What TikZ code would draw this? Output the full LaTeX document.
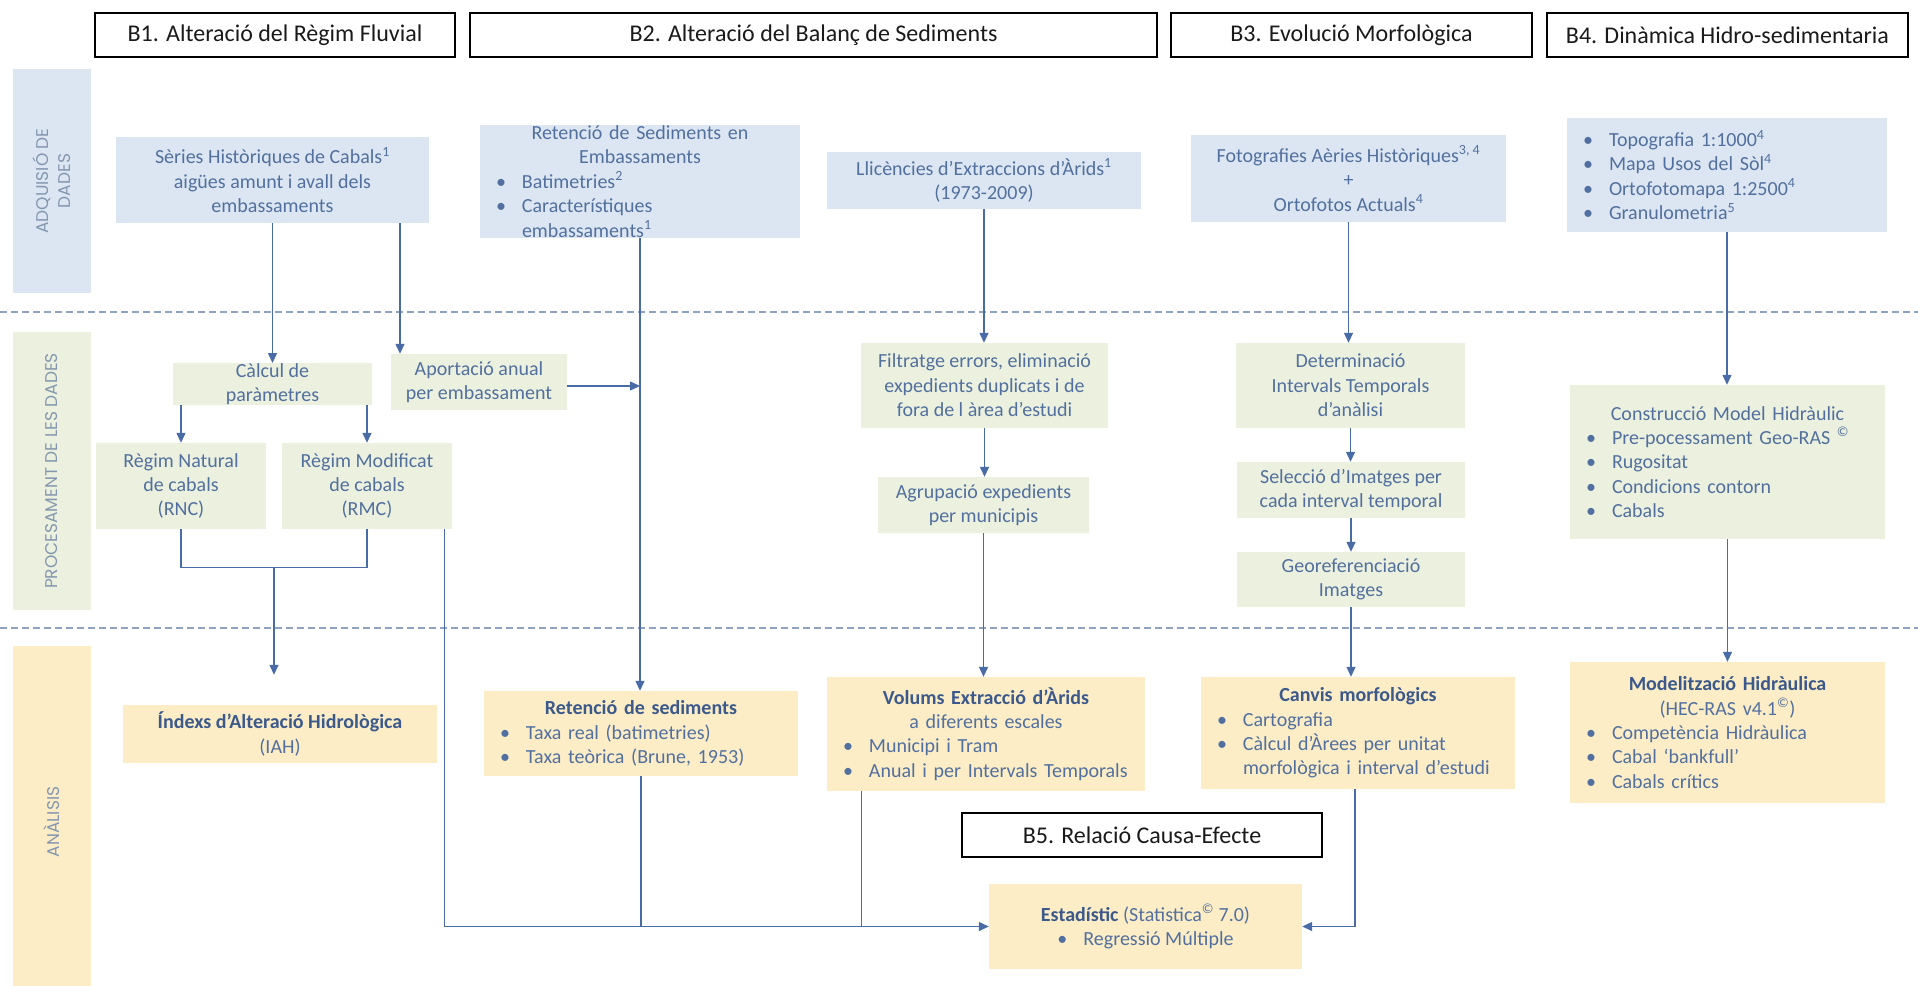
\documentclass[tikz,border=0pt]{standalone}
\usepackage{fontspec}
\setmainfont{Carlito}
\newfontfamily\barfont{Poppins}
\usetikzlibrary{arrows.meta,calc}

\definecolor{acqfill}{HTML}{DCE6F2}
\definecolor{procfill}{HTML}{EBF1DE}
\definecolor{anafill}{HTML}{FCEDC6}
\definecolor{boxtext}{HTML}{52709F}
\definecolor{boldtext}{HTML}{3B598B}
\definecolor{linkblue}{HTML}{4A6CA6}
\definecolor{dashgray}{HTML}{8FA3BF}
\definecolor{bartext}{HTML}{8497B0}
\definecolor{hdrtext}{HTML}{1A1A1A}

% centred line, bullet line, continuation line, superscript, bold title
\newcommand\cl[1]{\makebox[\linewidth][c]{#1}}
\newcommand\bl[1]{\makebox[26pt][l]{\textbullet}#1}
\newcommand\ct[1]{\hspace*{26pt}#1}
\newcommand\sups[1]{\textsuperscript{#1}}
\newcommand\bt[1]{\textcolor{boldtext}{\textbf{#1}}}

\begin{document}
\begin{tikzpicture}[x=1pt,y=-1pt,
  hdr/.style={draw=black, line width=1.3pt, fill=white, inner sep=0pt,
    minimum height=44, font=\fontsize{24}{28}\selectfont, text=hdrtext},
  bar/.style={inner sep=0pt, rotate=90, align=center,
    font=\barfont\fontsize{17}{22}\selectfont, text=bartext},
  box/.style={inner sep=0pt, align=center,
    font=\fontsize{20}{24.4}\selectfont, text=boxtext},
  acq/.style={box, fill=acqfill},
  proc/.style={box, fill=procfill},
  ana/.style={box, fill=anafill},
  list/.style={align=left, inner xsep=16pt, text width=#1},
  sz/.style 2 args={minimum width=#1, minimum height=#2},
  link/.style={draw=linkblue, line width=1.3pt},
  arr/.style={link, -{Triangle[length=10pt,width=9pt]}},
  dashline/.style={draw=dashgray, line width=1.2pt, dash pattern=on 7pt off 4pt}]

\useasboundingbox (0,0) rectangle (1918,985);
\fill[white] (0,0) rectangle (1918,985);

% stage bands on the left
\node[bar, fill=acqfill, sz={224}{78}] (barAdq) at (52,181) {ADQUISIÓ DE\\DADES};
\node[bar, fill=procfill, sz={278}{78}] (barProc) at (52,471) {PROCESAMENT DE LES DADES};
\node[bar, fill=anafill, sz={352}{78}] (barAna) at (52,822) {ANÀLISIS};

% stage separators
\draw[dashline] (0,312) -- (1918,312);
\draw[dashline] (0,628) -- (1918,628);

% block headers
\node[hdr, minimum width=360] (hB1) at (275,35) {B1. Alteració del Règim Fluvial};
\node[hdr, minimum width=687] (hB2) at (813.5,35) {B2. Alteració del Balanç de Sediments};
\node[hdr, minimum width=361] (hB3) at (1351.5,35) {B3. Evolució Morfològica};
\node[hdr, minimum width=361] (hB4) at (1727.5,35) {B4. Dinàmica Hidro-sedimentaria};
\node[hdr, minimum width=360] (hB5) at (1142,835) {B5. Relació Causa-Efecte};

% data acquisition
\node[acq, sz={313}{86}] (series) at (272.5,180)
  {Sèries Històriques de Cabals\sups{1}\\aigües amunt i avall dels\\embassaments};
\node[acq, sz={320}{113}, list=288] (retAcq) at (640,181.5)
  {\cl{Retenció de Sediments en}\\\cl{Embassaments}\\\bl{Batimetries\sups{2}}\\\bl{Característiques}\\\ct{embassaments\sups{1}}};
\node[acq, sz={314}{57}] (llic) at (984,180.5)
  {Llicències d’Extraccions d’Àrids\sups{1}\\(1973-2009)};
\node[acq, sz={315}{87}] (foto) at (1348.5,178.5)
  {Fotografies Aèries Històriques\sups{3, 4}\\+\\Ortofotos Actuals\sups{4}};
\node[acq, sz={320}{114}, list=288] (b4acq) at (1727,175)
  {\bl{Topografia 1:1000\sups{4}}\\\bl{Mapa Usos del Sòl\sups{4}}\\\bl{Ortofotomapa 1:2500\sups{4}}\\\bl{Granulometria\sups{5}}};

% data processing
\node[proc, sz={199}{38}] (calcul) at (272.5,384) {Càlcul de\\paràmetres};
\node[proc, sz={176}{56}] (aport) at (479,382) {Aportació anual\\per embassament};
\node[proc, sz={170}{86}] (rnc) at (181,486) {Règim Natural\\de cabals\\(RNC)};
\node[proc, sz={170}{86}] (rmc) at (367,486) {Règim Modificat\\de cabals\\(RMC)};
\node[proc, sz={247}{85}] (filt) at (984.5,385.5)
  {Filtratge errors, eliminació\\expedients duplicats i de\\fora de l àrea d’estudi};
\node[proc, sz={211}{56}] (agrup) at (983.5,505) {Agrupació expedients\\per municipis};
\node[proc, sz={229}{85}] (deter) at (1350.5,385.5) {Determinació\\Intervals Temporals\\d’anàlisi};
\node[proc, sz={228}{56}] (selec) at (1351,490) {Selecció d’Imatges per\\cada interval temporal};
\node[proc, sz={228}{55}] (geo) at (1351,579.5) {Georeferenciació\\Imatges};
\node[proc, sz={315}{154}, list=283] (constr) at (1727.5,462)
  {\cl{Construcció Model Hidràulic}\\\bl{Pre-pocessament Geo-RAS \sups{©}}\\\bl{Rugositat}\\\bl{Condicions contorn}\\\bl{Cabals}};

% analysis
\node[ana, sz={314}{58}] (iah) at (280,734) {\bt{Índexs d’Alteració Hidrològica}\\(IAH)};
\node[ana, sz={314}{85}, list=282] (retAna) at (641,733.5)
  {\cl{\bt{Retenció de sediments}}\\\bl{Taxa real (batimetries)}\\\bl{Taxa teòrica (Brune, 1953)}};
\node[ana, sz={318}{114}, list=286] (volums) at (986,734)
  {\cl{\bt{Volums Extracció d’Àrids}}\\\cl{a diferents escales}\\\bl{Municipi i Tram}\\\bl{Anual i per Intervals Temporals}};
\node[ana, sz={314}{112}, list=282] (canvis) at (1358,733)
  {\cl{\bt{Canvis morfològics}}\\\bl{Cartografia}\\\bl{Càlcul d’Àrees per unitat}\\\ct{morfològica i interval d’estudi}};
\node[ana, sz={315}{141}, list=283] (model) at (1727.5,732.5)
  {\cl{\bt{Modelització Hidràulica}}\\\cl{(HEC-RAS v4.1\sups{©})}\\\bl{Competència Hidràulica}\\\bl{Cabal ‘bankfull’}\\\bl{Cabals crítics}};
\node[ana, sz={313}{85}] (estad) at (1145.5,926.5)
  {\bt{Estadístic} (Statistica\sups{©} 7.0)\\\bl{Regressió Múltiple}};

% B1 connectors
\draw[arr] (series.south) -- (series.south |- calcul.north);
\draw[arr] ([xshift=127.5pt]series.south) -- ([xshift=127.5pt]series.south |- aport.north);
\draw[arr] (calcul.south -| rnc.north) -- (rnc.north);
\draw[arr] (calcul.south -| rmc.north) -- (rmc.north);
\draw[link] (rnc.south) -- ++(0,38) -| (rmc.south);
\coordinate (jn) at ($(rnc.south)!0.5!(rmc.south)+(0,38)$);
\draw[arr, shorten >=30pt] (jn) -- (jn |- iah.north);
\draw[arr] ([xshift=-8pt]rmc.south east) |- (estad.west);

% B2 connectors
\draw[arr] (retAcq.south) -- (retAcq.south |- retAna.north);
\draw[arr] ([yshift=-4pt]aport.east) -- ([yshift=-4pt]aport.east -| retAcq.south);
\draw[link] (retAna.south) -- (retAna.south |- estad.west);
\draw[arr] (llic.south) -- (llic.south |- filt.north);
\draw[arr] (filt.south) -- (filt.south |- agrup.north);
\draw[arr] (agrup.south) -- (agrup.south |- volums.north);
\draw[link] ([xshift=35pt]volums.south west) -- ([xshift=35pt]volums.south west |- estad.west);

% B3 connectors
\draw[arr] (foto.south) -- (foto.south |- deter.north);
\draw[arr] (deter.south) -- (deter.south |- selec.north);
\draw[arr] (selec.south) -- (selec.south |- geo.north);
\draw[arr] (geo.south) -- (geo.south |- canvis.north);
\draw[arr] ([xshift=-3pt]canvis.south) |- (estad.east);

% B4 connectors
\draw[arr] (b4acq.south) -- (b4acq.south |- constr.north);
\draw[arr] (constr.south) -- (constr.south |- model.north);
\end{tikzpicture}
\end{document}
